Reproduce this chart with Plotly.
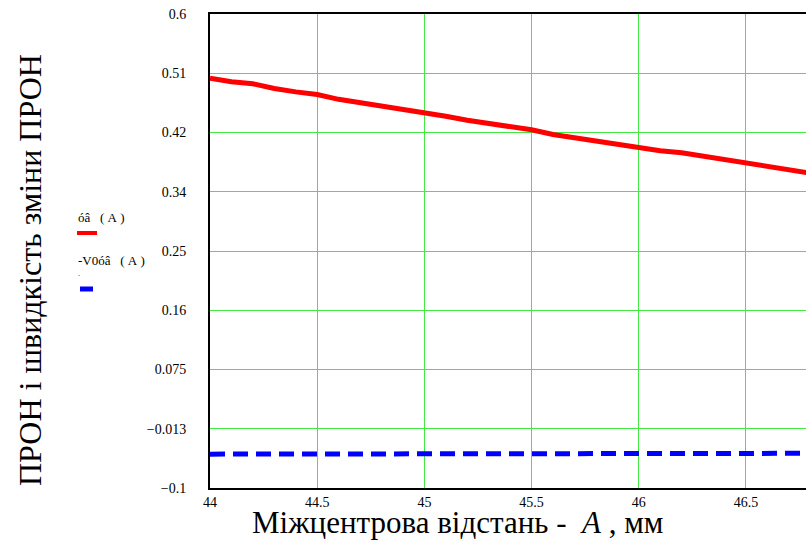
import plotly.graph_objects as go

# Data
x_vals = [44.0, 44.1, 44.2, 44.3, 44.4, 44.5, 44.6, 44.7, 44.8, 44.9, 45.0,
          45.1, 45.2, 45.3, 45.4, 45.5, 45.6, 45.7, 45.8, 45.9, 46.0,
          46.1, 46.2, 46.3, 46.4, 46.5, 46.6, 46.7, 46.8]
pron = [0.505, 0.500, 0.497, 0.490, 0.485, 0.481, 0.474, 0.469, 0.465, 0.459, 0.454,
        0.449, 0.443, 0.438, 0.433, 0.429, 0.422, 0.417, 0.412, 0.408, 0.402,
        0.398, 0.395, 0.390, 0.384, 0.379, 0.375, 0.370, 0.365]
v_pron = [-0.0500, -0.0500, -0.0500, -0.0500, -0.0500, -0.0500, -0.0500, -0.0500, -0.0500, -0.0488, -0.0488,
          -0.0488, -0.0488, -0.0488, -0.0488, -0.0488, -0.0488, -0.0488, -0.0488, -0.0488, -0.0488,
          -0.0488, -0.0488, -0.0488, -0.0488, -0.0488, -0.0488, -0.0488, -0.0488]

y_tickvals = [-0.1, -0.0125, 0.075, 0.1625, 0.25, 0.3375, 0.425, 0.5125, 0.6]
y_ticktext = ["\u22120.1", "\u22120.013", "0.075", "0.16", "0.25", "0.34", "0.42", "0.51", "0.6"]
x_tickvals = [44, 44.5, 45, 45.5, 46, 46.5]
x_ticktext = ["44", "44.5", "45", "45.5", "46", "46.5"]

SERIF = "Liberation Serif, Times New Roman, serif"
GRID = "#44e844"
NB = "\u00a0"

fig = go.Figure()
fig.add_trace(go.Scatter(x=x_vals, y=pron, mode="lines",
                         line=dict(color="#ff0000", width=5), showlegend=False))
fig.add_trace(go.Scatter(x=x_vals, y=v_pron, mode="lines",
                         line=dict(color="#0000ff", width=5, dash="15px,8px"), showlegend=False))

fig.update_layout(
    width=806, height=542,
    margin=dict(l=210, r=0, t=14, b=54),
    paper_bgcolor="white", plot_bgcolor="white",
    font=dict(family=SERIF, color="black", size=14),
    xaxis=dict(range=[44, 46.78], tickvals=x_tickvals, ticktext=x_ticktext,
               showgrid=True, gridcolor=GRID, gridwidth=1,
               showline=True, linecolor="black", linewidth=2, mirror=True,
               ticks="", zeroline=False, tickfont=dict(family=SERIF, size=14)),
    yaxis=dict(range=[-0.1, 0.6], tickvals=y_tickvals, ticktext=y_ticktext,
               showgrid=True, gridcolor=GRID, gridwidth=1,
               showline=True, linecolor="black", linewidth=2, mirror=False,
               ticks="", zeroline=False, ticklabelstandoff=19,
               tickfont=dict(family=SERIF, size=14)),
)

annotations = [
    dict(text="Міжцентрова відстань -" + NB + NB + "<i>A</i>" + NB + ", мм", xref="paper", yref="paper",
         x=(457.5 - 210) / 596, y=(488 - 522) / 474, xanchor="center", yanchor="middle", showarrow=False,
         font=dict(family=SERIF, size=31)),
    dict(text="ПРОН і швидкість зміни ПРОН", xref="paper", yref="paper",
         x=(30 - 210) / 596, y=(488 - 270) / 474, xanchor="center", yanchor="middle",
         textangle=-90, showarrow=False, font=dict(family=SERIF, size=32)),
    dict(text="óâ" + NB * 3 + "(" + NB + "A" + NB + ")", xref="paper", yref="paper",
         x=(76 - 210) / 596, y=(488 - 218) / 474, xanchor="left", yanchor="middle", showarrow=False,
         font=dict(family=SERIF, size=13)),
    dict(text="-V0óâ" + NB * 3 + "(" + NB + "A" + NB + ")", xref="paper", yref="paper",
         x=(76 - 210) / 596, y=(488 - 260) / 474, xanchor="left", yanchor="middle", showarrow=False,
         font=dict(family=SERIF, size=13)),
    dict(text=".", xref="paper", yref="paper",
         x=(76 - 210) / 596, y=(488 - 273) / 474, xanchor="left", yanchor="middle", showarrow=False,
         font=dict(family=SERIF, size=8)),
]
fig.update_layout(annotations=annotations)

fig.add_shape(type="line", xref="paper", yref="paper",
              x0=(77 - 210) / 596, x1=(97 - 210) / 596, y0=(488 - 233) / 474, y1=(488 - 233) / 474,
              line=dict(color="#ff0000", width=4))
fig.add_shape(type="line", xref="paper", yref="paper",
              x0=(80 - 210) / 596, x1=(93 - 210) / 596, y0=(488 - 289) / 474, y1=(488 - 289) / 474,
              line=dict(color="#0000ff", width=5))

fig.write_html("out.html", config={"displayModeBar": False},
               post_script="document.body.style.margin='0';")
